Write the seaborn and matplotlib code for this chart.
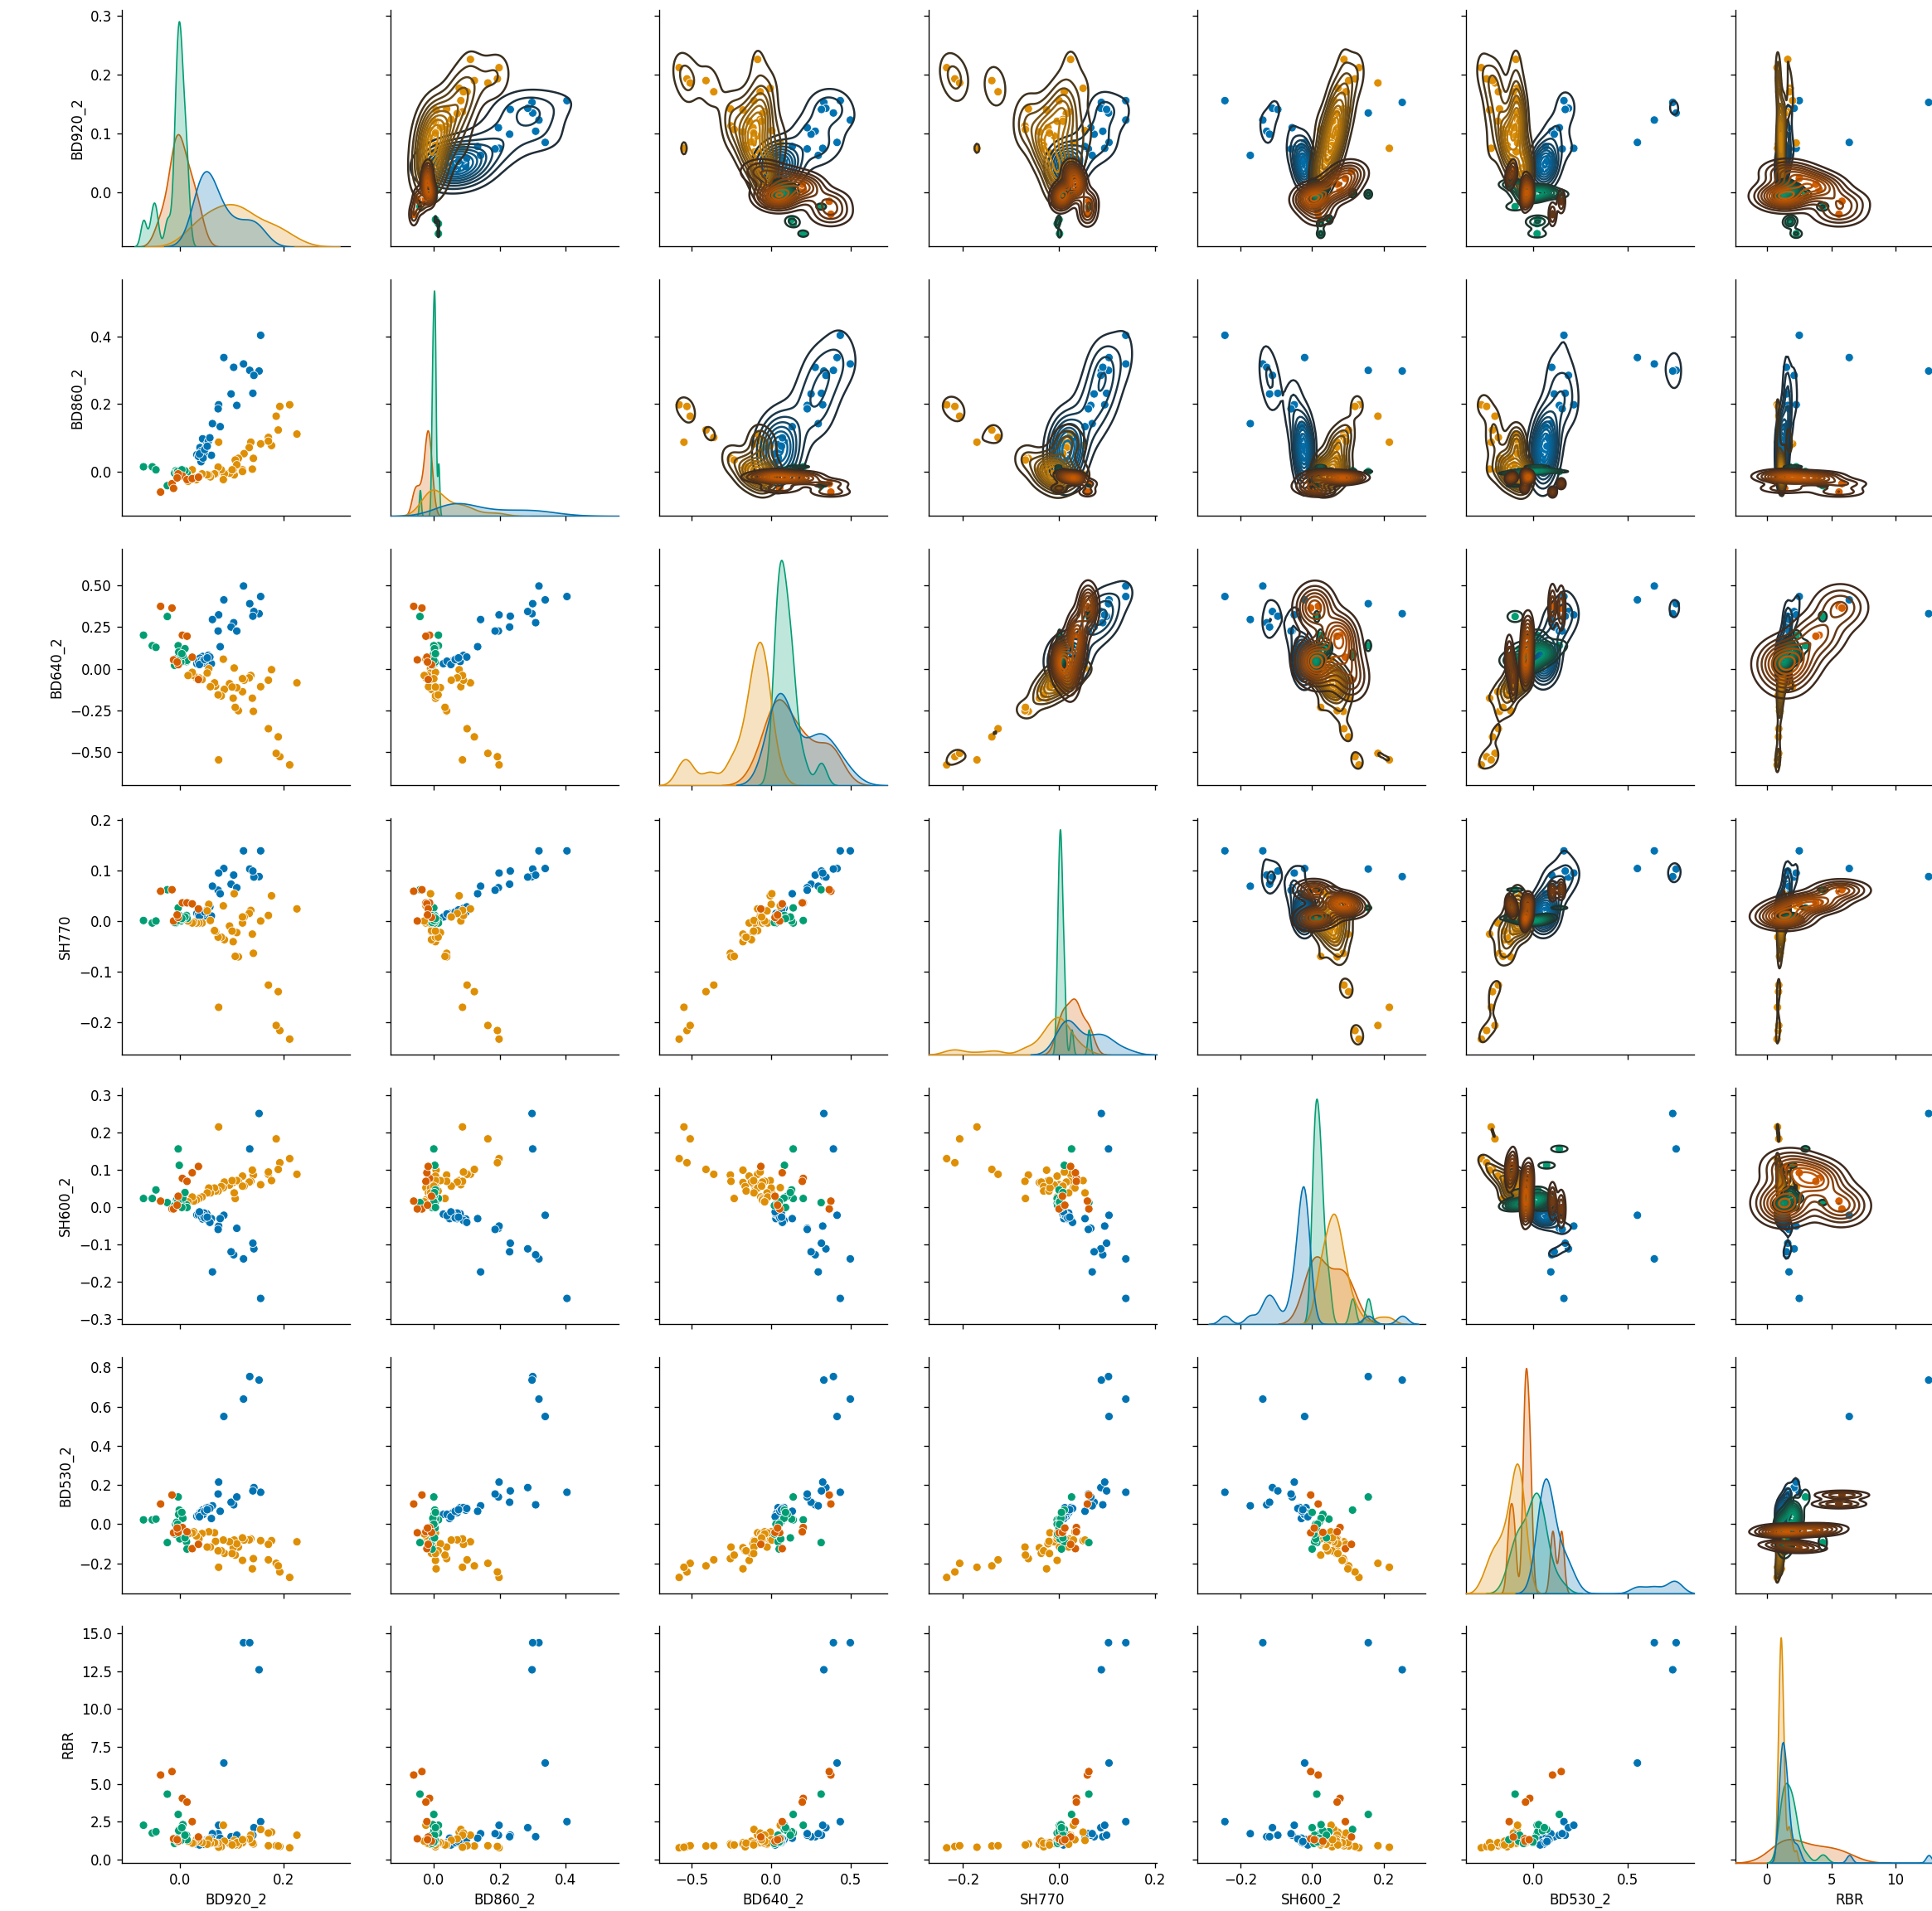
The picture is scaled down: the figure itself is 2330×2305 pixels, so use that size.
import numpy as np
import pandas as pd
import seaborn as sns
import matplotlib.pyplot as plt
from matplotlib.ticker import MaxNLocator

variables = ["BD920_2", "BD860_2", "BD640_2", "SH770", "SH600_2", "BD530_2", "RBR"]
classes = ["1", "2", "3", "4"]

# class 1 (blue); the last ten sit in the overplotted cluster near the origin
c1_bd920 = [0.156, 0.085, 0.123, 0.135, 0.153, 0.104, 0.143, 0.141, 0.099, 0.110,
            0.075, 0.074, 0.063, 0.078, 0.044, 0.052, 0.039, 0.033, 0.061, 0.041,
            0.036, 0.042, 0.047, 0.050, 0.055, 0.045, 0.038, 0.058, 0.048, 0.053]
c1_bd860 = [0.404, 0.338, 0.319, 0.300, 0.298, 0.309, 0.285, 0.232, 0.230, 0.196,
            0.198, 0.186, 0.142, 0.133, 0.097, 0.080, 0.071, 0.050, 0.048, 0.029,
            0.045, 0.060, 0.055, 0.070, 0.090, 0.040, 0.052, 0.100, 0.065, 0.075]
c1_bd640 = [0.433, 0.413, 0.496, 0.390, 0.330, 0.276, 0.343, 0.315, 0.250, 0.226,
            0.323, 0.226, 0.295, 0.132, 0.073, 0.043, 0.063, 0.030, 0.030, 0.030,
            0.040, 0.050, 0.035, 0.060, 0.080, 0.045, 0.025, 0.070, 0.055, 0.065]
c1_sh770 = [0.139, 0.104, 0.139, 0.103, 0.088, 0.091, 0.087, 0.099, 0.073, 0.066,
            0.095, 0.061, 0.069, 0.054, 0.017, 0.012, 0.020, 0.015, 0.010, 0.008,
            0.012, 0.016, 0.010, 0.020, 0.025, 0.014, 0.009, 0.028, 0.018, 0.022]
c1_sh600 = [-0.244, -0.021, -0.138, 0.157, 0.252, -0.127, -0.111, -0.096, -0.119, -0.056,
            -0.050, -0.059, -0.173, -0.030, -0.031, -0.017, -0.015, -0.020, -0.030, -0.018,
            -0.020, -0.025, -0.015, -0.030, -0.035, -0.022, -0.012, -0.040, -0.028, -0.026]
c1_bd530 = [0.163, 0.550, 0.639, 0.754, 0.736, 0.099, 0.187, 0.170, 0.112, 0.139,
            0.215, 0.154, 0.094, 0.066, 0.072, 0.084, 0.059, 0.040, 0.029, 0.050,
            0.045, 0.062, 0.055, 0.070, 0.085, 0.050, 0.038, 0.080, 0.066, 0.074]
c1_rbr = [2.5, 6.4, 14.4, 14.4, 12.6, 1.5, 2.1, 1.6, 1.5, 1.6,
          2.26, 1.7, 1.7, 1.4, 1.2, 1.3, 1.1, 1.0, 1.4, 1.0,
          1.05, 1.15, 1.00, 1.20, 1.30, 1.10, 0.95, 1.35, 1.12, 1.18]

# class 2 (orange)
c2_bd920 = [0.226, 0.212, 0.193, 0.186, 0.190, 0.171, 0.177, 0.156, 0.171, 0.142,
            0.140, 0.137, 0.134, 0.124, 0.121, 0.113, 0.107, 0.105, 0.103, 0.110,
            0.096, 0.086, 0.084, 0.080, 0.075, 0.074, 0.069, 0.067, 0.059, 0.056,
            0.053, 0.043, 0.037, 0.032, 0.027, 0.024, 0.016, 0.101, 0.121]
c2_bd860 = [0.111, 0.198, 0.193, 0.164, 0.123, 0.101, 0.077, 0.082, 0.090, 0.039,
            0.007, 0.087, 0.071, 0.053, 0.005, 0.039, 0.034, -0.010, 0.005, 0.020,
            -0.005, -0.007, -0.024, 0.005, 0.087, 0.013, -0.007, -0.007, -0.016, -0.010,
            -0.010, -0.007, -0.015, -0.024, -0.019, 0.005, -0.029, 0.005, 0.000]
c2_bd640 = [-0.085, -0.577, -0.528, -0.508, -0.409, -0.360, -0.006, -0.108, -0.069, -0.256,
            -0.177, -0.041, -0.055, -0.069, -0.138, -0.252, -0.232, 0.004, -0.177, -0.114,
            -0.090, -0.124, 0.057, -0.163, -0.547, -0.157, -0.104, -0.085, -0.108, 0.000,
            -0.026, -0.065, -0.055, -0.055, -0.041, -0.022, -0.041, -0.110, -0.060]
c2_sh770 = [0.024, -0.234, -0.217, -0.207, -0.140, -0.127, 0.050, 0.000, 0.011, -0.064,
            -0.026, 0.021, 0.015, 0.008, -0.004, -0.071, -0.070, 0.054, -0.041, -0.023,
            -0.010, -0.037, 0.030, -0.032, -0.171, -0.032, -0.021, -0.019, 0.001, 0.033,
            0.020, -0.004, -0.004, -0.004, -0.002, -0.004, 0.000, -0.020, 0.008]
c2_sh600 = [0.089, 0.131, 0.120, 0.184, 0.102, 0.089, 0.072, 0.061, 0.095, 0.087,
            0.100, 0.070, 0.068, 0.057, 0.084, 0.070, 0.024, 0.039, 0.067, 0.072,
            0.060, 0.068, 0.053, 0.056, 0.216, 0.044, 0.044, 0.052, 0.039, 0.052,
            0.039, 0.028, 0.024, 0.020, 0.017, 0.028, 0.015, 0.072, 0.057]
c2_bd530 = [-0.090, -0.272, -0.244, -0.200, -0.213, -0.182, -0.084, -0.084, -0.103, -0.176,
            -0.228, -0.075, -0.080, -0.081, -0.185, -0.117, -0.158, -0.081, -0.120, -0.100,
            -0.090, -0.149, -0.081, -0.136, -0.220, -0.136, -0.088, -0.044, -0.117, -0.039,
            -0.117, -0.048, -0.075, -0.060, -0.039, -0.045, -0.050, -0.150, -0.070]
c2_rbr = [1.60, 0.76, 0.85, 0.90, 0.88, 0.90, 1.80, 1.98, 1.74, 1.02,
          1.10, 1.60, 1.35, 1.26, 1.10, 0.95, 0.95, 1.25, 1.00, 1.10,
          1.05, 1.20, 2.26, 0.83, 0.80, 1.07, 1.07, 1.10, 1.07, 1.30,
          1.00, 1.10, 1.20, 1.30, 1.07, 1.07, 1.20, 0.95, 1.30]

# class 3 (green); the last eight are hidden under the cluster at the origin
c3_bd920 = [-0.070, -0.053, -0.046, -0.024, -0.003, -0.001, 0.013, -0.008, 0.014, 0.000,
            -0.010, -0.006, -0.002, 0.002, 0.006, 0.010, -0.004, 0.004]
c3_bd860 = [0.014, 0.014, 0.005, -0.042, 0.000, 0.003, -0.007, 0.002, -0.005, -0.003,
            -0.005, -0.002, 0.001, 0.004, -0.003, 0.002, 0.000, 0.005]
c3_bd640 = [0.201, 0.138, 0.128, 0.313, 0.138, 0.083, 0.043, 0.030, 0.050, 0.060,
            0.020, 0.060, 0.100, 0.040, 0.080, 0.120, 0.050, 0.090]
c3_sh770 = [0.001, -0.004, 0.000, 0.062, 0.026, 0.011, 0.011, -0.004, 0.005, 0.002,
            -0.003, 0.002, 0.006, 0.000, 0.004, 0.008, 0.001, 0.005]
c3_sh600 = [0.024, 0.024, 0.047, 0.013, 0.157, 0.113, 0.007, 0.010, 0.000, 0.010,
            0.005, 0.020, 0.030, 0.012, 0.025, 0.040, 0.015, 0.000]
c3_bd530 = [0.022, 0.022, 0.026, -0.094, 0.139, 0.072, -0.090, 0.000, -0.127, -0.075,
            -0.050, 0.010, 0.050, -0.020, 0.030, -0.070, 0.000, 0.060]
c3_rbr = [2.26, 1.74, 1.83, 4.33, 2.98, 1.98, 1.60, 1.10, 1.30, 1.20,
          1.05, 1.40, 1.90, 1.25, 2.30, 1.60, 1.15, 2.10]

# class 4 (vermilion)
c4_bd920 = [-0.037, -0.015, 0.005, 0.014, 0.024, 0.036, -0.012, -0.003, -0.005]
c4_bd860 = [-0.061, -0.036, -0.013, -0.024, -0.021, -0.017, -0.050, -0.007, -0.019]
c4_bd640 = [0.374, 0.364, 0.201, 0.195, 0.069, -0.065, 0.053, 0.024, 0.040]
c4_sh770 = [0.059, 0.062, 0.036, 0.036, 0.034, 0.024, 0.000, 0.007, 0.012]
c4_sh600 = [0.017, -0.004, 0.078, 0.070, 0.093, 0.110, -0.004, 0.030, 0.006]
c4_bd530 = [0.103, 0.149, -0.017, -0.039, -0.125, -0.103, -0.044, -0.042, -0.020]
c4_rbr = [5.60, 5.83, 4.05, 3.80, 2.50, 1.48, 1.36, 1.20, 1.30]

# axis ranges
x_limits = [(-0.112, 0.328), (-0.131, 0.561), (-0.70, 0.73), (-0.272, 0.203),
            (-0.321, 0.317), (-0.351, 0.85), (-2.5, 15.3)]
y_limits = [(-0.092, 0.31), (-0.132, 0.57), (-0.70, 0.72), (-0.265, 0.204),
            (-0.313, 0.322), (-0.354, 0.855), (-0.24, 15.5)]

groups = {
    "1": [c1_bd920, c1_bd860, c1_bd640, c1_sh770, c1_sh600, c1_bd530, c1_rbr],
    "2": [c2_bd920, c2_bd860, c2_bd640, c2_sh770, c2_sh600, c2_bd530, c2_rbr],
    "3": [c3_bd920, c3_bd860, c3_bd640, c3_sh770, c3_sh600, c3_bd530, c3_rbr],
    "4": [c4_bd920, c4_bd860, c4_bd640, c4_sh770, c4_sh600, c4_bd530, c4_rbr],
}

frames = []
for name, cols in groups.items():
    part = pd.DataFrame(dict(zip(variables, cols)))
    part["class"] = name
    frames.append(part)
df = pd.concat(frames, ignore_index=True)


def robust_bw(v):
    """Scott's rule with the robust spread min(std, IQR/1.349)"""
    v = np.asarray(v, float)
    iqr = (np.percentile(v, 75) - np.percentile(v, 25)) / 1.349
    spread = min(np.std(v, ddof=1), iqr)
    return 1.059 * spread * len(v) ** -0.2


def robust_factor(kde):
    v = kde.dataset[0]
    return robust_bw(v) / np.std(v, ddof=1)


def kde_dark(x, y, color=None, label=None, **kws):
    """Bivariate KDE, contour lines going from near-black to the class colour"""
    ax = plt.gca()
    xv = np.asarray(x, float)
    yv = np.asarray(y, float)
    bx, by = robust_bw(xv), robust_bw(yv)
    gx = np.linspace(xv.min() - 3 * bx, xv.max() + 3 * bx, 100)
    gy = np.linspace(yv.min() - 3 * by, yv.max() + 3 * by, 100)
    kx = np.exp(-0.5 * ((gx[:, None] - xv[None, :]) / bx) ** 2)
    ky = np.exp(-0.5 * ((gy[:, None] - yv[None, :]) / by) ** 2)
    z = ky @ kx.T / (len(xv) * 2 * np.pi * bx * by)
    ax.contour(gx, gy, z, 10, cmap=sns.dark_palette(color, as_cmap=True))


g = sns.PairGrid(df, vars=variables, hue="class", hue_order=classes,
                 palette="colorblind", height=2.77, diag_sharey=False)
g.map_lower(sns.scatterplot)
g.map_upper(sns.scatterplot)
g.map_upper(kde_dark)
g.map_diag(sns.kdeplot, fill=True, common_norm=False, bw_method=robust_factor)

for j, lim in enumerate(x_limits):
    ax = g.axes[-1, j]
    ax.xaxis.set_major_locator(MaxNLocator(nbins=4, steps=[1, 2, 2.5, 5, 10]))
    ax.set_xlim(lim)
for i, lim in enumerate(y_limits):
    ax = g.axes[i, 0]
    ax.yaxis.set_major_locator(MaxNLocator(nbins=7, steps=[1, 2, 2.5, 5, 10]))
    ax.set_ylim(lim)

g.figure.set_size_inches(2330 / 120, 2305 / 120)
g.figure.subplots_adjust(left=0.063, right=1.0162, bottom=0.0252, top=0.9948,
                         wspace=0.179, hspace=0.138)
g.figure.savefig("out.png", dpi=120)
